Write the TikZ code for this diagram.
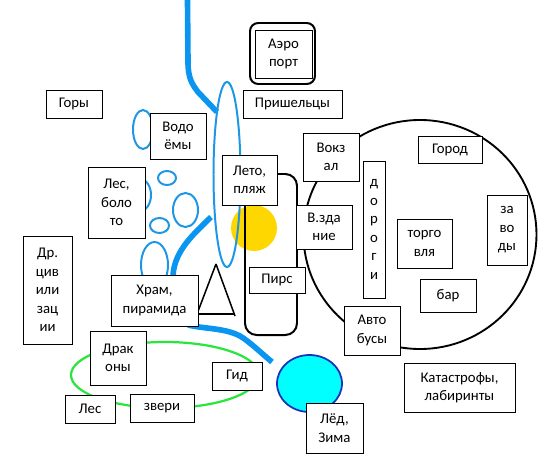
\documentclass[tikz,border=0pt]{standalone}
\usepackage{fontspec}
\setmainfont{Carlito}
\usepackage{xcolor}
\usetikzlibrary{
  positioning,
  shapes.geometric
}
\definecolor{riverblue}{RGB}{10, 150, 240}
\definecolor{lakeblue}{RGB}{30, 150, 230}
\definecolor{sungold}{RGB}{255, 215, 0}
\definecolor{icecyan}{RGB}{0, 255, 255}
\definecolor{iceedge}{RGB}{25, 50, 190}
\definecolor{fieldgreen}{RGB}{40, 230, 60}
\tikzset{
  lbl/.style 2 args={draw=black,fill=white,line width=0.85pt,inner sep=0pt,align=center,
    minimum width=#1*0.03cm,minimum height=#2*0.03cm,
    font=\fontsize{12.6}{15.8}\selectfont},
  lake/.style={draw=lakeblue,line width=1.7pt},
  river/.style={draw=riverblue,line width=4.8pt}
}
\begin{document}
\begin{tikzpicture}[x=0.03cm,y=-0.03cm]
\useasboundingbox (0,0) rectangle (553,470);
% water
\draw[river] (187.5,0) -- (188,62) .. controls (188,78) and (192,84) .. (198,92) -- (217,112);
\draw[river] (211,217) .. controls (196,232) and (174,250) .. (173,276);
\draw[river] (188,325) .. controls (205,329) and (225,328) .. (240,336) .. controls (250,342) and (260,352) .. (272,362);
% lakes
\draw[lake] (143,129.5) ellipse [x radius=10,y radius=19.5];
\draw[lake] (140,195) ellipse [x radius=11,y radius=16];
\draw[lake] (167,178) ellipse [x radius=9,y radius=7];
\draw[lake] (185.5,210) ellipse [x radius=12.5,y radius=17];
\draw[lake] (159.5,225.5) ellipse [x radius=9.5,y radius=7.5];
\draw[lake] (154.5,265) ellipse [x radius=13.5,y radius=23];
% sun and long lake
\fill[sungold] (254,228) circle [radius=23];
\draw[lake] (227,174.5) ellipse [x radius=13.5,y radius=92.5];
% pier
\draw[black,line width=1.7pt,rounded corners=10] (245,174) rectangle (297,335);
% pyramid
\draw[black,line width=1.3pt] (216,264) -- (235,316);
\draw[black,line width=1.3pt] (216,264) -- (197,314) -- (234,314);
% city, ice, green field
\draw[black,line width=1.6pt] (420,234.5) ellipse [x radius=116.5,y radius=114.5];
\draw[draw=iceedge,fill=icecyan,line width=1.5pt] (309.5,383.5) ellipse [x radius=32.5,y radius=28.5];
\draw[fieldgreen,line width=1.9pt] (165,375) ellipse [x radius=94,y radius=33];
% labels
\draw[black,line width=1.7pt,rounded corners=7] (250,23) rectangle (315,84);
\node[lbl={57}{48}] (airport) at (283.5,54) {Аэро\\порт};
\node[lbl={99}{28}] (aliens) at (292.5,104) {Пришельцы};
\node[lbl={56}{28}] (mountains) at (74,104) {Горы};
\node[lbl={56}{46}] (ponds) at (178,136) {Водо\\ёмы};
\node[lbl={55}{50}] (summer) at (249.5,180) {Лето,\\пляж};
\node[lbl={56}{48}] (station) at (331,157) {Вокз\\ал};
\node[lbl={56}{44}] (building) at (324,227) {В.зда\\ние};
\node[lbl={57}{71}] (forest) at (116.5,202.5) {Лес,\\боло\\то};
\node[lbl={49}{108}] (civil) at (47.5,290) {Др.\\цив\\или\\зац\\ии};
\node[lbl={22}{137}] (roads) at (374,229.5) {д\\о\\р\\о\\г\\и};
\node[lbl={64}{27}] (city) at (450,149.5) {Город};
\node[lbl={40}{70}] (plants) at (507,230) {за\\во\\ды};
\node[lbl={55}{49}] (trade) at (424.5,243.5) {торго\\вля};
\node[lbl={56}{33}] (bar) at (448,295.5) {бар};
\node[lbl={56}{49}] (buses) at (372,330.5) {Авто\\бусы};
\node[lbl={111}{49}] (disasters) at (459.5,387.5) {Катастрофы,\\лабиринты};
\node[lbl={57}{50}] (ice) at (334.5,428) {Лёд,\\Зима};
\node[lbl={56}{26}] (pier) at (277,280) {Пирс};
\node[lbl={87}{51}] (temple) at (154.5,300.5) {Храм,\\пирамида};
\node[lbl={56}{54}] (dragons) at (118,358) {Драк\\оны};
\node[lbl={50}{28}] (guide) at (237,376) {Гид};
\node[lbl={64}{28}] (beasts) at (162,408) {звери};
\node[lbl={50}{28}] (wood) at (90,409) {Лес};
\end{tikzpicture}
\end{document}
